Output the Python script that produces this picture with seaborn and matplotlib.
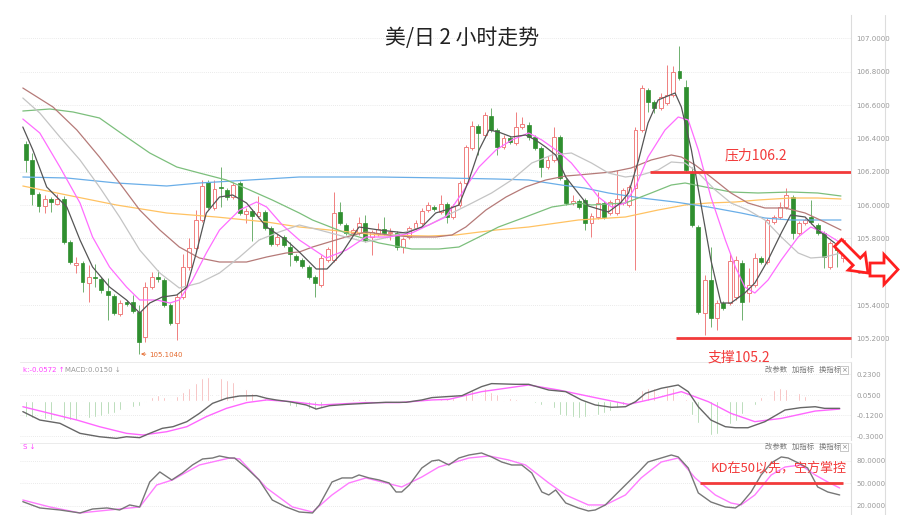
import numpy as np
import matplotlib
matplotlib.use("Agg")
import matplotlib.pyplot as plt
import matplotlib.patches as mpatches
import matplotlib.transforms as mtransforms
from matplotlib.lines import Line2D
import seaborn as sns

# STYLE
sns.set_style("white")
plt.rcParams['font.family'] = ['Noto Sans CJK SC', 'DejaVu Sans']

# CANDLES (USD/JPY, 2H)
OPEN = [
    106.366, 106.27, 106.066, 105.994, 106.036, 106.006, 106.036, 105.778, 105.64, 105.652,
    105.532, 105.568, 105.556, 105.484, 105.454, 105.346, 105.418, 105.418, 105.358, 105.208,
    105.508, 105.568, 105.55, 105.40, 105.292, 105.448, 105.628, 105.742, 105.91, 106.138,
    105.982, 106.108, 106.09, 106.048, 106.132, 105.946, 105.964, 105.934, 105.958, 105.862,
    105.766, 105.808, 105.748, 105.694, 105.67, 105.628, 105.568, 105.52, 105.67, 105.67,
    105.958, 105.88, 105.832, 105.832, 105.892, 105.808, 105.826, 105.856, 105.832, 105.832,
    105.748, 105.808, 105.862, 105.892, 105.97, 105.988, 105.958, 106.006, 105.928, 106.00,
    106.132, 106.342, 106.474, 106.42, 106.534, 106.45, 106.348, 106.402, 106.372, 106.468,
    106.48, 106.408, 106.342, 106.228, 106.27, 106.408, 106.15, 106.012, 106.024, 106.03,
    105.892, 105.928, 106.012, 105.952, 105.952, 106.012, 106.00, 106.102, 106.45, 106.69,
    106.618, 106.582, 106.612, 106.66, 106.804, 106.708, 106.192, 105.868, 105.352, 105.55,
    105.322, 105.412, 105.412, 105.448, 105.652, 105.472, 105.52, 105.682, 105.658, 105.898,
    105.928, 105.988, 106.048, 105.832, 105.892, 105.928, 105.88, 105.832, 105.628, 105.772,
    105.682]
CLOSE = [
    106.27, 106.066, 105.994, 106.036, 106.018, 106.036, 105.778, 105.658, 105.652, 105.538,
    105.568, 105.562, 105.49, 105.46, 105.352, 105.412, 105.406, 105.364, 105.178, 105.508,
    105.568, 105.556, 105.40, 105.292, 105.448, 105.628, 105.742, 105.91, 106.114, 105.988,
    106.096, 106.102, 106.048, 106.12, 105.952, 105.964, 105.934, 105.958, 105.862, 105.766,
    105.808, 105.76, 105.706, 105.67, 105.634, 105.568, 105.532, 105.682, 105.736, 105.952,
    105.892, 105.832, 105.85, 105.892, 105.79, 105.838, 105.856, 105.832, 105.838, 105.748,
    105.796, 105.862, 105.892, 105.964, 106.00, 105.976, 106.006, 105.928, 105.994, 106.132,
    106.348, 106.474, 106.432, 106.54, 106.45, 106.348, 106.402, 106.378, 106.468, 106.486,
    106.408, 106.342, 106.228, 106.27, 106.408, 106.162, 106.012, 106.024, 105.988, 105.892,
    105.934, 106.012, 105.928, 106.018, 106.036, 106.09, 106.108, 106.45, 106.702, 106.618,
    106.582, 106.648, 106.66, 106.798, 106.762, 106.21, 105.88, 105.358, 105.55, 105.322,
    105.412, 105.382, 105.664, 105.67, 105.418, 105.52, 105.682, 105.658, 105.91, 105.928,
    105.988, 106.06, 105.832, 105.892, 105.91, 105.898, 105.832, 105.688, 105.772, 105.73,
    105.79]
HIGH = [
    106.384, 106.312, 106.078, 106.06, 106.048, 106.066, 106.054, 105.79, 105.688, 105.664,
    105.64, 105.646, 105.568, 105.562, 105.466, 105.43, 105.43, 105.46, 105.40, 105.538,
    105.598, 105.61, 105.562, 105.412, 105.466, 105.706, 105.802, 105.97, 106.15, 106.15,
    106.15, 106.228, 106.102, 106.138, 106.144, 105.982, 105.976, 106.054, 105.97, 105.874,
    105.826, 105.82, 105.778, 105.706, 105.682, 105.64, 105.58, 105.70, 105.748, 106.078,
    106.018, 105.892, 105.862, 105.928, 105.94, 105.85, 105.892, 105.928, 105.862, 105.844,
    105.808, 105.874, 105.91, 105.982, 106.018, 106.00, 106.06, 106.018, 106.006, 106.144,
    106.36, 106.504, 106.486, 106.558, 106.582, 106.462, 106.42, 106.414, 106.558, 106.528,
    106.498, 106.42, 106.354, 106.294, 106.468, 106.42, 106.162, 106.06, 106.036, 106.042,
    105.952, 106.078, 106.024, 106.03, 106.21, 106.102, 106.12, 106.468, 106.72, 106.702,
    106.63, 106.672, 106.84, 106.834, 106.954, 106.75, 106.228, 105.88, 105.58, 105.748,
    105.43, 105.424, 105.712, 105.694, 105.67, 105.622, 105.712, 105.694, 105.922, 105.94,
    106.018, 106.102, 106.06, 105.904, 105.922, 106.03, 105.892, 105.844, 105.784, 105.784,
    105.802]
LOW = [
    106.198, 106.00, 105.958, 105.952, 105.958, 106.00, 105.766, 105.646, 105.592, 105.478,
    105.418, 105.508, 105.472, 105.31, 105.34, 105.334, 105.394, 105.352, 105.106, 105.178,
    105.496, 105.538, 105.388, 105.28, 105.19, 105.436, 105.61, 105.73, 105.898, 105.976,
    105.97, 105.988, 106.03, 106.036, 105.94, 105.892, 105.784, 105.922, 105.85, 105.754,
    105.754, 105.748, 105.634, 105.658, 105.622, 105.556, 105.448, 105.508, 105.658, 105.658,
    105.88, 105.82, 105.82, 105.82, 105.778, 105.70, 105.814, 105.82, 105.79, 105.73,
    105.712, 105.796, 105.85, 105.88, 105.958, 105.964, 105.946, 105.892, 105.916, 105.988,
    106.12, 106.33, 106.30, 106.408, 106.438, 106.30, 106.336, 106.366, 106.36, 106.456,
    106.39, 106.33, 106.168, 106.216, 106.258, 106.15, 106.00, 106.00, 105.976, 105.85,
    105.808, 105.916, 105.916, 105.94, 105.94, 106.00, 105.988, 105.61, 106.438, 106.558,
    106.552, 106.57, 106.60, 106.648, 106.75, 106.198, 105.868, 105.346, 105.22, 105.268,
    105.25, 105.37, 105.40, 105.43, 105.31, 105.418, 105.508, 105.646, 105.646, 105.886,
    105.916, 105.976, 105.796, 105.82, 105.88, 105.886, 105.82, 105.622, 105.616, 105.628,
    105.658]

# MOVING AVERAGES (bar index, price)
MA_BLACK_X = [-0.5, 1.1, 3.3, 6.5, 8.6, 10.6, 13.3, 16, 18.1, 19.7, 21.7, 24, 25.6, 27.1, 28.7, 30.8,
              32.9, 35.1, 38.3, 41.4, 43.5, 46.2, 47.9, 50.3, 53, 56.2, 60.5, 63, 65.2, 66.8, 68.9,
              70.5, 72.1, 73.7, 75.2, 77.3, 79.5, 81.1, 82.7, 84.3, 85.9, 87.5, 89.5, 92.7, 94.6,
              95.9, 97.5, 99, 100.6, 103.3, 104.3, 105.9, 107.5, 109, 110.6, 112.2, 114.4, 116,
              118.1, 120.2, 121.7, 124, 126, 128.7]
MA_BLACK_Y = [106.468, 106.33, 106.108, 105.988, 105.79, 105.628, 105.508, 105.43, 105.352, 105.412,
              105.448, 105.46, 105.508, 105.712, 105.952, 106.048, 106.06, 106.012, 105.868, 105.79,
              105.718, 105.616, 105.616, 105.712, 105.868, 105.85, 105.832, 105.868, 105.952, 105.97,
              106.00, 106.15, 106.33, 106.45, 106.438, 106.408, 106.42, 106.39, 106.348, 106.30,
              106.168, 106.09, 105.994, 105.958, 106.012, 106.072, 106.27, 106.492, 106.63, 106.672,
              106.588, 106.33, 105.988, 105.67, 105.412, 105.412, 105.472, 105.532, 105.67, 105.832,
              105.94, 105.928, 105.85, 105.772]

MA_PINK_X = [-0.5, 2.2, 5.4, 8.6, 10.6, 13.3, 16, 18.1, 20.8, 22.9, 24.4, 26.5, 28.7, 30.8, 34, 36.7,
             38.3, 40.8, 43.5, 47.8, 51, 54.1, 57.8, 61.4, 64.1, 66.8, 69.4, 72.1, 74.8, 77.3, 80,
             82.1, 84.8, 86.8, 89, 91.1, 93.2, 95.4, 97, 99, 101.7, 103.8, 105.4, 107, 109, 111.3,
             112.9, 114.4, 116, 118.1, 120.2, 122.9, 124.9, 127.1, 129.7]
MA_PINK_Y = [106.516, 106.432, 106.228, 106.012, 105.808, 105.628, 105.508, 105.43, 105.43, 105.412,
             105.43, 105.55, 105.712, 105.85, 105.97, 106.018, 105.988, 105.88, 105.79, 105.682,
             105.73, 105.808, 105.808, 105.832, 105.88, 105.928, 106.072, 106.228, 106.33, 106.39,
             106.432, 106.39, 106.318, 106.252, 106.15, 106.048, 105.988, 106.012, 106.108, 106.288,
             106.45, 106.528, 106.51, 106.33, 106.048, 105.79, 105.628, 105.508, 105.472, 105.55,
             105.67, 105.808, 105.868, 105.832, 105.772]

MA_GRAY_X = [-0.5, 2.2, 5.4, 8.6, 11.7, 14.9, 18.1, 21.3, 24.4, 27.6, 30.8, 34, 37.1, 40.3, 43.5, 46.7,
             50.9, 54.1, 57.8, 61.4, 64.1, 67.8, 71, 74.1, 77.3, 80.5, 83.7, 86.8, 90, 92.7, 95.4,
             97.9, 100.6, 102.7, 104.9, 107, 109.7, 112.2, 114.9, 117.6, 120.2, 122.9, 124.9, 127.1,
             129.7]
MA_GRAY_Y = [106.642, 106.552, 106.408, 106.27, 106.108, 105.928, 105.73, 105.592, 105.502, 105.532,
             105.592, 105.688, 105.79, 105.838, 105.88, 105.85, 105.808, 105.778, 105.808, 105.85,
             105.88, 105.952, 106.012, 106.072, 106.15, 106.252, 106.30, 106.312, 106.252, 106.192,
             106.168, 106.18, 106.21, 106.258, 106.252, 106.192, 106.09, 106.012, 105.97, 105.91,
             105.808, 105.712, 105.682, 105.688, 105.712]

MA_BROWN_X = [-0.5, 4.3, 8.1, 11.7, 14.9, 18.1, 21.3, 24.4, 27.6, 30.8, 35.1, 38.3, 41.4, 43.5, 45.6,
              50.9, 54.1, 57.8, 61.4, 65.2, 67.8, 70, 73.2, 76.4, 79.5, 82.7, 85.9, 87.9, 93.2, 96.3,
              99.5, 102.7, 104.3, 106.5, 109, 112.2, 114.9, 117.6, 120.8, 124, 127.1, 129.7]
MA_BROWN_Y = [106.702, 106.588, 106.45, 106.288, 106.132, 105.97, 105.85, 105.748, 105.682, 105.658,
              105.658, 105.688, 105.712, 105.718, 105.748, 105.808, 105.838, 105.82, 105.808, 105.808,
              105.82, 105.868, 105.97, 106.048, 106.108, 106.15, 106.174, 106.18, 106.198, 106.222,
              106.27, 106.30, 106.288, 106.24, 106.168, 106.072, 106.012, 105.982, 105.982, 105.952,
              105.898, 105.85]

MA_GREEN_X = [-0.5, 3.8, 7.5, 11.7, 16, 19.7, 24, 27.6, 31.9, 35.6, 39.2, 43.5, 45.6, 50.9, 56.2, 61.4,
              65.7, 68.9, 72.1, 75.2, 79.5, 83.7, 87.9, 90, 95.4, 99.5, 102.7, 104.9, 108.1, 112.2,
              116.5, 121.7, 126, 129.7]
MA_GREEN_Y = [106.564, 106.576, 106.558, 106.522, 106.408, 106.312, 106.228, 106.192, 106.15, 106.09,
              106.03, 105.952, 105.91, 105.832, 105.772, 105.736, 105.736, 105.748, 105.808, 105.868,
              105.928, 105.988, 106.012, 106.00, 106.012, 106.072, 106.12, 106.132, 106.108, 106.078,
              106.072, 106.078, 106.072, 106.054]

MA_BLUE_X = [-0.5, 6.5, 14.4, 22.4, 27.6, 35.6, 43.5, 56.2, 66.8, 74.8, 80, 85.2, 88.9, 92.7, 97.9,
             103.3, 108.6, 113.8, 117.6, 121.7, 129.7]
MA_BLUE_Y = [106.168, 106.162, 106.132, 106.114, 106.132, 106.15, 106.168, 106.168, 106.162, 106.156,
             106.15, 106.12, 106.102, 106.072, 106.042, 106.018, 105.988, 105.952, 105.922, 105.91,
             105.91]

MA_ORANGE_X = [-0.5, 6.5, 14.4, 22.4, 30.3, 38.3, 43.5, 48.3, 56.2, 64.1, 68.4, 74.8, 80, 87.9, 95.4,
               100.6, 104.9, 108.6, 112.9, 116.5, 121.7, 126, 129.7]
MA_ORANGE_Y = [106.114, 106.06, 106.00, 105.952, 105.928, 105.898, 105.868, 105.85, 105.82, 105.814,
               105.82, 105.85, 105.868, 105.91, 105.928, 105.97, 106.00, 106.012, 106.018, 106.03,
               106.042, 106.042, 106.036]

# MACD HISTOGRAM (one bar per candle)
MACD_HIST = [
    -0.134, -0.143, -0.154, -0.157, -0.16, -0.163, -0.163, -0.163, -0.16, -0.154,
    -0.143, -0.134, -0.126, -0.114, -0.10, -0.08, -0.063, -0.049, -0.04, -0.005,
    0.037, 0.051, 0.037, 0.037, 0.046, 0.08, 0.109, 0.151, 0.20, 0.206,
    0.206, 0.20, 0.18, 0.16, 0.123, 0.10, 0.071, 0.051, 0.029, 0.014,
    -0.011, -0.029, -0.04, -0.049, -0.057, -0.069, -0.077, -0.057, -0.034, -0.006,
    0.01, 0.015, 0.02, 0.02, 0.017, 0.014, 0.012, 0.01, 0.008, 0.006,
    0.005, 0.006, 0.008, 0.01, 0.012, 0.014, 0.015, 0.023, 0.029, 0.051,
    0.066, 0.094, 0.109, 0.109, 0.08, 0.057, 0.037, 0.029, 0.017, 0.003,
    -0.003, -0.02, -0.034, -0.049, -0.057, -0.12, -0.129, -0.14, -0.149, -0.14,
    -0.134, -0.12, -0.106, -0.086, -0.063, -0.034, -0.01, 0.051, 0.094, 0.109,
    0.109, 0.115, 0.123, 0.109, 0.066, 0.02, -0.12, -0.19, -0.25, -0.29,
    -0.28, -0.24, -0.20, -0.17, -0.114, -0.063, -0.034, 0.03, 0.066, 0.094,
    0.109, 0.10, 0.086, 0.066, 0.04, 0.02, 0.014, 0.01, 0.008, 0.008,
    0.008]

DIF_X = [-0.5, 2.2, 5.4, 8.6, 11.7, 14.4, 16, 18.1, 19.7, 21.7, 23.4, 25.6, 27.6, 29.7, 31.9, 34, 36.7,
         38.3, 39.8, 41.9, 44.6, 46.2, 48.3, 51, 54.1, 57.3, 60.5, 63, 64.6, 69.4, 72.5, 74.1, 77.9,
         80, 83.2, 85.9, 88.4, 90.6, 93.2, 95.4, 97, 98.6, 101.1, 103.8, 105.4, 107, 109, 111.3,
         112.9, 114.9, 117.6, 120.8, 123.3, 125.6, 127.1, 129.5]
DIF_Y = [-0.091, -0.163, -0.191, -0.277, -0.306, -0.32, -0.306, -0.314, -0.277, -0.234, -0.22, -0.177,
         -0.106, -0.02, 0.023, 0.043, 0.046, 0.023, 0.009, -0.006, -0.034, -0.069, -0.04, -0.029,
         -0.02, -0.011, -0.011, 0.009, 0.029, 0.046, 0.123, 0.149, 0.143, 0.143, 0.094, 0.08, 0.009,
         -0.034, -0.054, -0.049, -0.006, 0.066, 0.109, 0.137, 0.08, -0.049, -0.163, -0.22, -0.229,
         -0.229, -0.177, -0.077, -0.057, -0.049, -0.063, -0.063]

DEA_X = [-0.5, 3.8, 8.1, 11.7, 16, 18.6, 22.4, 25.6, 28.7, 31.9, 35.1, 38.3, 42.4, 46.7, 48.7, 54.1,
         59.4, 64.6, 67.3, 72.5, 80, 84.8, 91.1, 95.9, 100.2, 104.3, 108.6, 112.2, 116, 120.2,
         125.6, 129.5]
DEA_Y = [-0.049, -0.106, -0.163, -0.22, -0.277, -0.291, -0.263, -0.22, -0.134, -0.063, -0.014, 0.009,
         -0.006, -0.034, -0.029, -0.014, -0.014, 0.009, 0.014, 0.08, 0.137, 0.094, 0.023, -0.029,
         0.023, 0.08, -0.006, -0.106, -0.177, -0.149, -0.086, -0.069]

# KD
K_X = [-0.5, 2.2, 5.4, 8.6, 10.6, 12.9, 14.9, 16.5, 18.1, 19.7, 21.3, 23.2, 24.9, 26.5, 28.1, 29.7,
       30.8, 32.4, 33.2, 35.1, 37.1, 39.2, 41.4, 43.5, 45.6, 46.7, 48.7, 50.3, 51.9, 53, 54.6, 56.2,
       57.8, 58.9, 59.8, 61, 63, 64.6, 65.7, 67.3, 68.9, 70.5, 72.5, 74.1, 75.7, 77.3, 78.9, 80.5,
       82.1, 83.2, 84.3, 85.9, 87.9, 89.5, 90.6, 92.2, 93.8, 95.4, 97.5, 99, 101.1, 102.7, 103.8,
       105.4, 107, 109, 111.3, 112.9, 113.8, 115.4, 117, 118.6, 120.2, 121.3, 122.9, 124.4, 126,
       127.6, 129.5]
K_Y = [25.5, 17.1, 14.4, 10.4, 15.7, 17.1, 14.4, 21.1, 18.4, 51.7, 65.1, 54.4, 63.7, 74.4, 82.4, 83.7,
       86.4, 83.7, 83.7, 70.4, 54.4, 27.7, 18.4, 11.7, 10.4, 21.1, 51.7, 57.1, 57.1, 61.1, 57.1, 54.4,
       50.4, 38.4, 38.4, 47.7, 70.4, 79.7, 81.1, 74.4, 83.7, 87.7, 90.4, 85.1, 78.4, 74.4, 74.4, 63.7,
       38.4, 34.4, 41.1, 23.7, 17.1, 13.1, 14.4, 21.1, 34.4, 47.7, 65.1, 78.4, 83.7, 87.7, 85.1,
       70.4, 37.1, 25.1, 18.4, 17.1, 22.4, 38.4, 61.1, 77.1, 85.1, 83.7, 77.1, 70.4, 45.1,
       38.4, 34.4]

D_X = [-0.5, 3.8, 8.6, 13.3, 18.1, 20.8, 23.3, 27.6, 32.4, 34, 38.3, 42.4, 45.6, 48.7, 51.4, 54.1,
       56.7, 59.8, 63, 65.7, 67.3, 70.5, 73.7, 76.8, 79.5, 83.2, 85.9, 89.5, 92.2, 95.4, 97.9,
       101.1, 103.8, 106.5, 109.7, 112.2, 113.8, 116, 118.6, 120.8, 123.3, 125.6, 127.6, 129.5]
D_Y = [27.7, 18.4, 10.4, 14.4, 18.4, 47.7, 54.4, 74.4, 83.7, 82.4, 43.7, 18.4, 11.7, 34.4, 50.4, 57.1,
       51.7, 45.1, 58.4, 71.7, 75.7, 83.7, 86.4, 81.1, 74.4, 50.4, 34.4, 21.1, 21.1, 34.4, 57.1,
       78.4, 83.7, 57.1, 34.4, 23.7, 21.1, 34.4, 61.1, 71.7, 74.4, 61.1, 51.7, 43.7]

# AXIS TICKS
PRICE_TICKS = [105.2, 105.4, 105.6, 105.8, 106.0, 106.2, 106.4, 106.6, 106.8, 107.0]
MACD_TICKS = [0.23, 0.05, -0.12, -0.30]
KD_TICKS = [80, 50, 20]

# LEVELS
RESIST = 106.2
SUPPORT = 105.2
KD_LEVEL = 50

RED = '#f07f7f'
GREEN = '#2f8f2f'
ANNO = '#f23a3a'
GRID = '#e3e3e3'

W, H = 900, 515
fig = plt.figure(figsize=(9, 5.15), dpi=100)


def add_ax(left, top, right, bottom):
    return fig.add_axes([left / W, 1 - bottom / H, (right - left) / W, (bottom - top) / H])


ax = add_ax(20, 15, 851, 357)
ax_macd = add_ax(20, 362, 851, 440)
ax_kd = add_ax(20, 443, 851, 515)

o = np.array(OPEN)
c = np.array(CLOSE)
hi = np.array(HIGH)
lo = np.array(LOW)
x = np.arange(len(c))
up = c >= o

# CANDLES
ax.vlines(x[up], lo[up], hi[up], color=RED, lw=0.7, zorder=2)
ax.vlines(x[~up], lo[~up], hi[~up], color='#6fb06f', lw=0.7, zorder=2)
ax.bar(x[up], np.maximum(c - o, 0.004)[up], bottom=o[up], width=0.62,
       facecolor='white', edgecolor=RED, linewidth=0.7, zorder=3)
ax.bar(x[~up], np.maximum(o - c, 0.004)[~up], bottom=c[~up], width=0.62,
       facecolor=GREEN, edgecolor=GREEN, linewidth=0.5, zorder=3)


def draw_line(a, xs, ys, color, lw=0.9):
    sns.lineplot(x=xs, y=ys, ax=a, color=color, linewidth=lw, zorder=4)


draw_line(ax, MA_ORANGE_X, MA_ORANGE_Y, '#ffc262')
draw_line(ax, MA_BLUE_X, MA_BLUE_Y, '#6aaee8')
draw_line(ax, MA_GREEN_X, MA_GREEN_Y, '#7cbf7c')
draw_line(ax, MA_BROWN_X, MA_BROWN_Y, '#b57a78')
draw_line(ax, MA_GRAY_X, MA_GRAY_Y, '#c4c4c4')
draw_line(ax, MA_PINK_X, MA_PINK_Y, '#ff6cff')
draw_line(ax, MA_BLACK_X, MA_BLACK_Y, '#555555')

# SUPPORT / RESISTANCE
ax.hlines(RESIST, 99.3, 131.3, color=ANNO, lw=2, zorder=5)
ax.hlines(SUPPORT, 103.4, 131.3, color=ANNO, lw=2, zorder=5, clip_on=False)
ax.text(116.2, 106.3, '压力106.2', color=ANNO, fontsize=10, ha='center', va='center', zorder=6)
fig.text(739 / W, 1 - 358 / H, '支撑105.2', color=ANNO, fontsize=10, ha='center', va='center', zorder=10)

low_i = int(np.argmin(lo))
ax.annotate('105.1040', xy=(low_i + 0.3, lo[low_i]), xytext=(low_i + 1.6, lo[low_i] - 0.004),
            color='#e46a2e', fontsize=5, va='center', family='DejaVu Sans',
            arrowprops=dict(arrowstyle='->', color='#e46a2e', lw=0.6, shrinkA=0, shrinkB=0))

# MACD
hist = np.array(MACD_HIST)
ax_macd.bar(x, hist, width=0.28, color=np.where(hist >= 0, '#f3a3a3', '#93c993'), zorder=2)
draw_line(ax_macd, DEA_X, DEA_Y, '#ff66ff', lw=1.0)
draw_line(ax_macd, DIF_X, DIF_Y, '#666666', lw=1.0)
ax_macd.text(0.004, 0.9, 'k:-0.0572 ↑', color='#ff44ff', fontsize=5, transform=ax_macd.transAxes,
             va='center', family='DejaVu Sans')
ax_macd.text(0.054, 0.9, 'MACD:0.0150 ↓', color='#999999', fontsize=5, transform=ax_macd.transAxes,
             va='center', family='DejaVu Sans')

# KD
draw_line(ax_kd, D_X, D_Y, '#ff7cff', lw=1.0)
draw_line(ax_kd, K_X, K_Y, '#777777', lw=1.0)
ax_kd.hlines(KD_LEVEL, 107.2, 130, color=ANNO, lw=2, zorder=5)
ax_kd.text(119.8, 70.4, 'KD在50以先，空方掌控', color=ANNO, fontsize=9.4, ha='center', va='center', zorder=6)
ax_kd.text(0.004, 0.94, 'S ↓', color='#ff44ff', fontsize=5, transform=ax_kd.transAxes,
           va='center', family='DejaVu Sans')

for a, top_y in [(ax_macd, 0.895), (ax_kd, 0.944)]:
    a.text(0.896, top_y, '改参数   加指标   换指标', color='#777777', fontsize=5.3,
           transform=a.transAxes, va='center')
    a.text(0.992, top_y, '×', color='#888888', fontsize=5, transform=a.transAxes, va='center',
           ha='center', family='DejaVu Sans',
           bbox=dict(boxstyle='square,pad=0.15', fc='white', ec='#b0b0b0', lw=0.5))

# AXES
for a in (ax, ax_macd, ax_kd):
    a.set_xlim(-0.95, 131.3)
    a.set_xticks([])
    a.set_xlabel('')
    a.set_ylabel('')
    a.yaxis.tick_right()
    a.tick_params(axis='y', length=0, labelsize=5, labelcolor='#999999', pad=4)
    a.grid(axis='y', color=GRID, linestyle=(0, (1, 1.5)), lw=0.6)
    a.set_facecolor('none')
    for s in ('left', 'bottom', 'top'):
        a.spines[s].set_visible(False)
    a.spines['right'].set_color('#dcdcdc')
    a.spines['right'].set_linewidth(0.8)

for a in (ax_macd, ax_kd):
    a.spines['top'].set_visible(True)
    a.spines['top'].set_color('#e8e8e8')
    a.spines['top'].set_linewidth(0.6)

ax.set_ylim(105.088, 107.14)
ax.set_yticks(PRICE_TICKS)
ax.set_yticklabels(['%.4f' % v for v in PRICE_TICKS], family='DejaVu Sans')
ax_macd.set_ylim(-0.334, 0.334)
ax_macd.set_yticks(MACD_TICKS)
ax_macd.set_yticklabels(['%.4f' % v for v in MACD_TICKS], family='DejaVu Sans')
ax_kd.set_ylim(7.7, 103.7)
ax_kd.set_yticks(KD_TICKS)
ax_kd.set_yticklabels(['%.4f' % v for v in KD_TICKS], family='DejaVu Sans')

# TITLE
fig.text(462 / W, 1 - 38 / H, '美/日 2 小时走势', ha='center', va='center', fontsize=15, color='#222222')

# RIGHT BORDER + ARROWS
fig.add_artist(Line2D([885 / W, 885 / W], [0, 1 - 15 / H], color='#dddddd', lw=0.8))
ident = mtransforms.IdentityTransform()
arrow1 = mpatches.FancyArrow(838, H - 243, 30, -30, width=10, head_width=24, head_length=16,
                             length_includes_head=True, transform=ident,
                             facecolor='white', edgecolor='#ff1f1f', lw=2, zorder=20)
arrow2 = mpatches.FancyArrow(870, H - 269.5, 28, 0, width=13, head_width=30, head_length=14,
                             length_includes_head=True, transform=ident,
                             facecolor='white', edgecolor='#ff1f1f', lw=2, zorder=20)
fig.add_artist(arrow1)
fig.add_artist(arrow2)

fig.savefig('out.png', dpi=100)
